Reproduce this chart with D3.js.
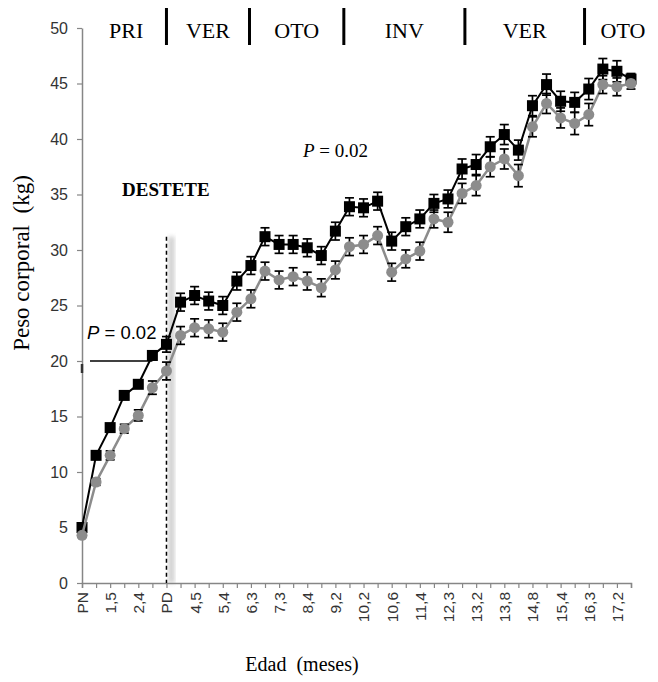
<!DOCTYPE html>
<html>
<head>
<meta charset="utf-8">
<script src="https://cdn.jsdelivr.net/npm/d3@7"></script>
<style>
  body { margin: 0; background: #fff; }
  svg { display: block; }
  text { white-space: pre; }
</style>
</head>
<body>
<svg id="chart" width="658" height="682"></svg>
<script>
// tick labels, every second category gets one
const edadLabels = ["PN", "1,5", "2,4", "PD", "4,5", "5,4", "6,3", "7,3", "8,4", "9,2",
  "10,2", "10,6", "11,4", "12,3", "13,2", "13,8", "14,8", "15,4", "16,3", "17,2"]

// black squares
const pesoA = [5.0, 11.5, 14.0, 16.9, 17.9, 20.5, 21.5, 25.3, 25.9, 25.4,
  25.0, 27.2, 28.6, 31.2, 30.5, 30.5, 30.2, 29.5, 31.7, 33.9,
  33.8, 34.4, 30.8, 32.1, 32.8, 34.2, 34.6, 37.3, 37.7, 39.3,
  40.4, 39.0, 43.0, 44.9, 43.4, 43.3, 44.5, 46.3, 46.1, 45.4]
const errA = [0.3, 0.3, 0.3, 0.3, 0.3, 0.4, 0.7, 0.8, 0.8, 0.8,
  0.8, 0.8, 0.8, 0.8, 0.8, 0.8, 0.8, 0.8, 0.8, 0.8,
  0.8, 0.8, 0.8, 0.8, 0.8, 0.8, 0.8, 0.9, 0.9, 0.9,
  0.9, 0.9, 0.9, 0.95, 0.9, 0.9, 0.95, 0.95, 0.95, 0.5]

// gray circles
const pesoB = [4.3, 9.1, 11.5, 13.9, 15.1, 17.6, 19.1, 22.3, 23.0, 22.9,
  22.6, 24.4, 25.6, 28.1, 27.3, 27.6, 27.2, 26.6, 28.2, 30.3,
  30.5, 31.3, 28.0, 29.2, 29.9, 32.8, 32.5, 35.1, 35.8, 37.5,
  38.2, 36.7, 41.1, 43.2, 41.9, 41.4, 42.2, 44.9, 44.7, 45.0]
const errB = [0.2, 0.3, 0.4, 0.4, 0.5, 0.6, 0.8, 0.8, 0.8, 0.8,
  0.8, 0.8, 0.8, 0.8, 0.8, 0.8, 0.8, 0.8, 0.8, 0.8,
  0.8, 0.8, 0.8, 0.8, 0.8, 0.8, 0.9, 0.9, 0.9, 0.9,
  0.9, 1.0, 0.9, 0.9, 0.9, 1.0, 1.0, 0.8, 0.8, 0.5]

// seasons along the top (index where each season starts)
const estaciones = ["PRI", "VER", "OTO", "INV", "VER", "OTO"]
const estacionInicio = [0.0, 6.0, 11.9, 18.6, 27.2, 35.7]

const yTicks = [0, 5, 10, 15, 20, 25, 30, 35, 40, 45, 50]

const svg = d3.select("#chart")
const margin = {top: 28, right: 27, bottom: 99, left: 82}
const W = 658, H = 682
const n = pesoA.length

const x = d3.scaleLinear().domain([0, n - 1]).range([margin.left, W - margin.right])
const y = d3.scaleLinear().domain([0, 50]).range([H - margin.bottom, margin.top])

const serif = "'Liberation Serif', 'Times New Roman', serif"
const sans = "'Liberation Sans', Arial, sans-serif"

// shadow next to the weaning line
const defs = svg.append("defs")
defs.append("filter").attr("id", "blur").append("feGaussianBlur").attr("stdDeviation", 2)
svg.append("rect")
  .attr("x", x(6) + 2).attr("y", y(31.2))
  .attr("width", 6).attr("height", y(0) - y(31.2))
  .attr("fill", "#bbb").attr("opacity", 0.7)
  .attr("filter", "url(#blur)")

// axes
const xAxis = d3.axisBottom(x)
  .tickValues(d3.range(n))
  .tickSize(5)
  .tickFormat(i => i % 2 === 0 ? edadLabels[i / 2] : "")
const gx = svg.append("g")
  .attr("transform", "translate(0," + y(0) + ")")
  .call(xAxis)
gx.select(".domain").attr("stroke", "#868686").attr("stroke-width", 1.5)
gx.selectAll(".tick line").attr("stroke", "#868686").attr("stroke-width", 1.2)
gx.selectAll(".tick text")
  .attr("transform", "rotate(-90)")
  .attr("text-anchor", "end")
  .attr("x", -9).attr("y", 0).attr("dy", "0.35em")
  .attr("fill", "#333")
  .style("font-family", sans).style("font-size", "15.5px")

const yAxis = d3.axisLeft(y).tickValues(yTicks).tickSize(5).tickSizeOuter(0)
const gy = svg.append("g")
  .attr("transform", "translate(" + margin.left + ",0)")
  .call(yAxis)
gy.select(".domain").attr("stroke", "#868686").attr("stroke-width", 1.5)
gy.selectAll(".tick line").attr("stroke", "#868686").attr("stroke-width", 1.2)
gy.selectAll(".tick text")
  .attr("x", -14)
  .attr("fill", "#333")
  .style("font-family", sans).style("font-size", "16px")

// weaning dashed line
svg.append("line")
  .attr("x1", x(6)).attr("x2", x(6))
  .attr("y1", y(31.2)).attr("y2", y(0))
  .attr("stroke", "#000").attr("stroke-width", 1.5)
  .attr("stroke-dasharray", "4,3")

// P = 0.02 reference line at 20 kg
svg.append("line")
  .attr("x1", x(0) + 8).attr("x2", x(5))
  .attr("y1", y(20)).attr("y2", y(20))
  .attr("stroke", "#000").attr("stroke-width", 1.5)
svg.append("line")
  .attr("x1", x(0)).attr("x2", x(0))
  .attr("y1", y(20) + 3).attr("y2", y(20) + 12)
  .attr("stroke", "#333").attr("stroke-width", 2.5)

function drawSeries(values, errs, color, shape) {
  const pts = values.map((v, i) => ({i: i, v: v, e: errs[i]}))
  const line = d3.line().x(d => x(d.i)).y(d => y(d.v))

  svg.append("path")
    .datum(pts)
    .attr("d", line)
    .attr("fill", "none")
    .attr("stroke", color)
    .attr("stroke-width", shape === "square" ? 2 : 2.5)

  const eb = svg.append("g").attr("stroke", "#000").attr("stroke-width", 1.7)
  pts.forEach(d => {
    eb.append("line").attr("x1", x(d.i)).attr("x2", x(d.i))
      .attr("y1", y(d.v - d.e)).attr("y2", y(d.v + d.e))
    eb.append("line").attr("x1", x(d.i) - 4.5).attr("x2", x(d.i) + 4.5)
      .attr("y1", y(d.v + d.e)).attr("y2", y(d.v + d.e))
    eb.append("line").attr("x1", x(d.i) - 4.5).attr("x2", x(d.i) + 4.5)
      .attr("y1", y(d.v - d.e)).attr("y2", y(d.v - d.e))
  })

  if (shape === "square") {
    svg.append("g").selectAll("rect")
      .data(pts).enter().append("rect")
      .attr("x", d => x(d.i) - 5.5).attr("y", d => y(d.v) - 5.5)
      .attr("width", 11).attr("height", 11)
      .attr("fill", color)
  } else {
    svg.append("g").selectAll("circle")
      .data(pts).enter().append("circle")
      .attr("cx", d => x(d.i)).attr("cy", d => y(d.v))
      .attr("r", 5.5)
      .attr("fill", color)
  }
}

drawSeries(pesoA, errA, "#000", "square")
drawSeries(pesoB, errB, "#8c8c8c", "circle")

// seasons on top
const estFin = estacionInicio.slice(1).concat([n - 1])
estaciones.forEach((s, k) => {
  let cx = (x(estacionInicio[k]) + x(estFin[k])) / 2
  if (k === 0) cx += 2
  if (k === estaciones.length - 1) cx = W - 35
  svg.append("text")
    .attr("x", cx)
    .attr("y", 38)
    .attr("text-anchor", "middle")
    .style("font-family", serif).style("font-size", "22px")
    .text(s)
  if (k > 0) {
    svg.append("line")
      .attr("x1", x(estacionInicio[k])).attr("x2", x(estacionInicio[k]))
      .attr("y1", 8).attr("y2", 45)
      .attr("stroke", "#000").attr("stroke-width", 3)
  }
})

// annotations
svg.append("text")
  .attr("x", 122).attr("y", 196)
  .style("font-family", serif).style("font-size", "19px").style("font-weight", "bold")
  .text("DESTETE")

const p1 = svg.append("text")
  .attr("x", 87).attr("y", 339)
  .style("font-family", sans).style("font-size", "18.5px")
p1.append("tspan").style("font-style", "italic").text("P")
p1.append("tspan").text(" = 0.02")

const p2 = svg.append("text")
  .attr("x", 303).attr("y", 157)
  .style("font-family", serif).style("font-size", "19px")
p2.append("tspan").style("font-style", "italic").text("P")
p2.append("tspan").text(" = 0.02")

// axis titles
svg.append("text")
  .attr("transform", "translate(29,263) rotate(-90)")
  .attr("text-anchor", "middle")
  .style("font-family", serif).style("font-size", "23px")
  .text("Peso corporal  (kg)")

svg.append("text")
  .attr("x", 302).attr("y", 671)
  .attr("text-anchor", "middle")
  .style("font-family", serif).style("font-size", "20px")
  .text("Edad  (meses)")
</script>
</body>
</html>
